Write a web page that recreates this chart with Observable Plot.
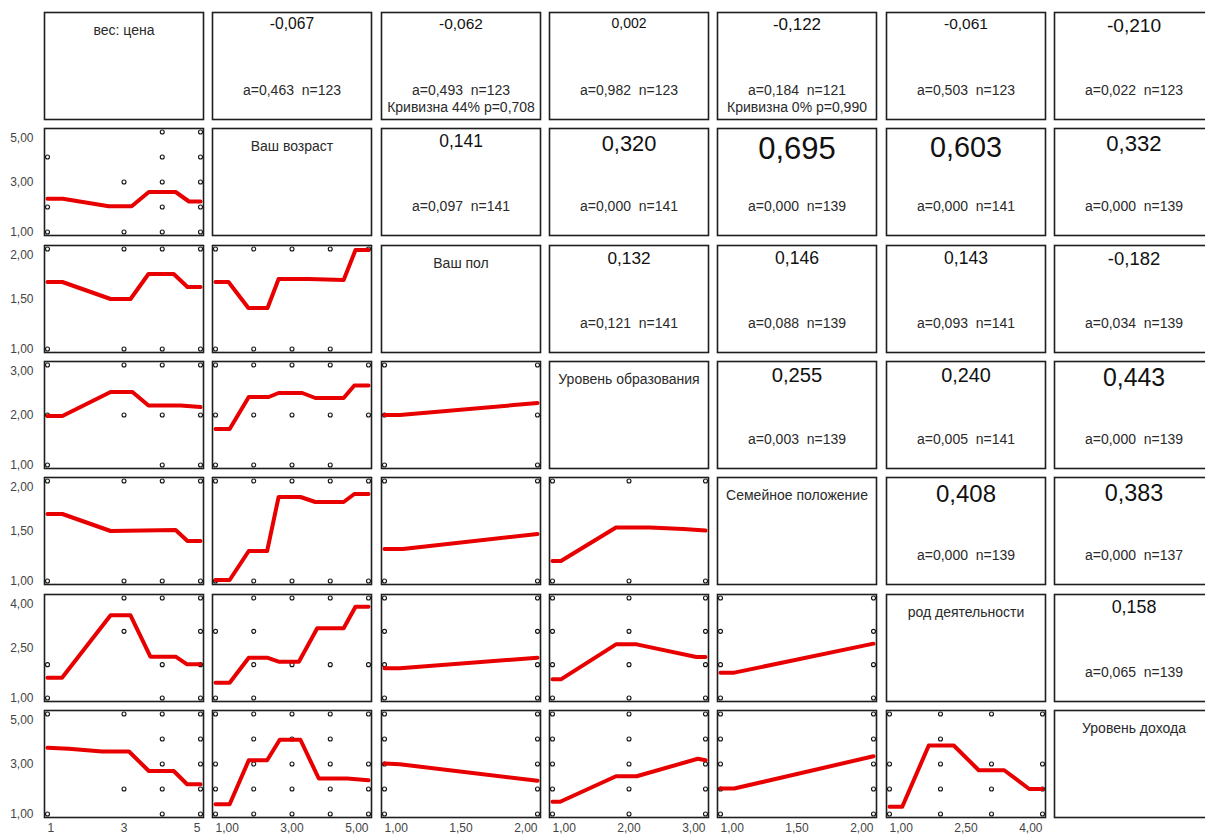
<!DOCTYPE html>
<html><head><meta charset="utf-8">
<script src="https://cdn.jsdelivr.net/npm/d3@7"></script>
<script src="https://cdn.jsdelivr.net/npm/@observablehq/plot@0.6"></script>
<style>
html,body{margin:0;padding:0;background:#fff;}
#chart{position:relative;width:1205px;height:835px;overflow:hidden;background:#fff;}
</style></head><body><div id="chart"></div>
<script>
// ---- variables ----
const variables = ["вес: цена", "Ваш возраст", "Ваш пол", "Уровень образования", "Семейное положение", "род деятельности", "Уровень дохода"];
const varMin = [1, 1, 1, 1, 1, 1, 1];
const varMax = [5, 5, 2, 3, 2, 4, 5];
const varTicks = [[1, 3, 5], [1, 3, 5], [1, 1.5, 2], [1, 2, 3], [1, 1.5, 2], [1, 2.5, 4], [1, 3, 5]];
const tickDecimals = [0, 2, 2, 2, 2, 2, 2];

// ---- upper triangle (row-major) ----
const corrPairs = [[0,1],[0,2],[0,3],[0,4],[0,5],[0,6],[1,2],[1,3],[1,4],[1,5],[1,6],[2,3],[2,4],[2,5],[2,6],[3,4],[3,5],[3,6],[4,5],[4,6],[5,6]];
const corrR = [-0.067, -0.062, 0.002, -0.122, -0.061, -0.210, 0.141, 0.320, 0.695, 0.603, 0.332, 0.132, 0.146, 0.143, -0.182, 0.255, 0.240, 0.443, 0.408, 0.383, 0.158];
const corrA = [0.463, 0.493, 0.982, 0.184, 0.503, 0.022, 0.097, 0.000, 0.000, 0.000, 0.000, 0.121, 0.088, 0.093, 0.034, 0.003, 0.005, 0.000, 0.000, 0.000, 0.065];
const corrN = [123, 123, 123, 121, 123, 123, 141, 141, 139, 141, 139, 141, 139, 141, 139, 139, 141, 139, 139, 137, 139];
const curvNote = ["", "Кривизна 44% p=0,708", "", "Кривизна 0% p=0,990", "", "", "", "", "", "", "", "", "", "", "", "", "", "", "", "", ""];

// ---- scatter points [x, y] per lower panel (row_col) ----
const pts_1_0 = [[4,5],[5,5],[1,4],[4,4],[5,4],[3,3],[4,3],[5,3],[1,2],[4,2],[5,2],[1,1],[3,1],[4,1],[5,1]];
const pts_2_0 = [[1,2],[3,2],[4,2],[5,2],[1,1],[3,1],[4,1],[5,1]];
const pts_2_1 = [[1,2],[2,2],[3,2],[4,2],[5,2],[1,1],[2,1],[3,1],[4,1]];
const pts_3_0 = [[1,3],[3,3],[4,3],[5,3],[1,2],[3,2],[4,2],[5,2],[1,1],[4,1],[5,1]];
const pts_3_1 = [[1,3],[2,3],[3,3],[4,3],[5,3],[1,2],[2,2],[3,2],[4,2],[5,2],[1,1],[2,1],[3,1],[4,1]];
const pts_3_2 = [[1,3],[2,3],[1,2],[2,2],[1,1],[2,1]];
const pts_4_0 = [[1,2],[3,2],[4,2],[5,2],[1,1],[3,1],[4,1],[5,1]];
const pts_4_1 = [[1,2],[2,2],[3,2],[4,2],[5,2],[1,1],[2,1],[3,1],[4,1],[5,1]];
const pts_4_2 = [[1,2],[2,2],[1,1],[2,1]];
const pts_4_3 = [[1,2],[2,2],[3,2],[1,1],[2,1],[3,1]];
const pts_5_0 = [[3,4],[4,4],[5,4],[3,3],[5,3],[1,2],[4,2],[5,2],[1,1],[4,1],[5,1]];
const pts_5_1 = [[2,4],[3,4],[4,4],[5,4],[1,3],[2,3],[2,2],[3,2],[4,2],[5,2],[1,1],[2,1]];
const pts_5_2 = [[1,4],[2,4],[1,3],[2,3],[1,2],[2,2],[1,1],[2,1]];
const pts_5_3 = [[1,4],[2,4],[3,4],[1,3],[2,3],[3,3],[1,2],[2,2],[3,2],[1,1],[2,1],[3,1]];
const pts_5_4 = [[1,4],[2,4],[1,3],[2,3],[1,2],[2,2],[1,1],[2,1]];
const pts_6_0 = [[1,5],[3,5],[4,5],[5,5],[4,4],[5,4],[4,3],[5,3],[3,2],[4,2],[5,2],[1,1],[4,1],[5,1]];
const pts_6_1 = [[1,5],[2,5],[3,5],[4,5],[5,5],[2,4],[3,4],[4,4],[1,3],[2,3],[3,3],[4,3],[5,3],[1,2],[2,2],[3,2],[4,2],[5,2],[1,1],[2,1],[3,1],[4,1],[5,1]];
const pts_6_2 = [[1,5],[2,5],[1,4],[2,4],[1,3],[2,3],[1,2],[2,2],[1,1],[2,1]];
const pts_6_3 = [[1,5],[2,5],[3,5],[1,4],[2,4],[3,4],[1,3],[2,3],[3,3],[1,2],[2,2],[3,2],[1,1],[2,1],[3,1]];
const pts_6_4 = [[1,5],[2,5],[1,4],[2,4],[1,3],[2,3],[1,2],[2,2],[1,1],[2,1]];
const pts_6_5 = [[1,5],[2,5],[3,5],[4,5],[2,4],[1,3],[2,3],[3,3],[4,3],[1,2],[2,2],[3,2],[4,2],[1,1],[2,1],[3,1],[4,1]];

// ---- smoothed fit lines [x, y] per lower panel ----
const fit_1_0 = [[1,2.33],[1.4,2.33],[2.6,2.03],[3.2,2.03],[3.65,2.6],[4.35,2.6],[4.7,2.22],[5,2.22]];
const fit_2_0 = [[1,1.67],[1.39,1.67],[2.65,1.5],[3.17,1.5],[3.64,1.75],[4.3,1.75],[4.66,1.62],[5,1.62]];
const fit_2_1 = [[1,1.67],[1.34,1.67],[1.86,1.41],[2.36,1.41],[2.65,1.70],[3.43,1.70],[4.35,1.69],[4.66,1.99],[5,1.99]];
const fit_3_0 = [[1,1.98],[1.39,1.98],[2.65,2.46],[3.22,2.46],[3.64,2.19],[4.48,2.19],[5,2.16]];
const fit_3_1 = [[1,1.72],[1.37,1.72],[1.87,2.36],[2.39,2.36],[2.65,2.44],[3.27,2.44],[3.61,2.34],[4.35,2.34],[4.63,2.59],[5,2.59]];
const fit_3_2 = [[1,2.0],[1.1,2.0],[2,2.24]];
const fit_4_0 = [[1,1.67],[1.39,1.67],[2.65,1.5],[4.35,1.51],[4.66,1.4],[5,1.4]];
const fit_4_1 = [[1,1.01],[1.37,1.01],[1.87,1.30],[2.35,1.30],[2.65,1.84],[3.22,1.84],[3.61,1.79],[4.35,1.79],[4.63,1.87],[5,1.87]];
const fit_4_2 = [[1,1.32],[1.12,1.32],[2,1.47]];
const fit_4_3 = [[1,1.2],[1.11,1.2],[1.83,1.535],[2.27,1.535],[2.71,1.52],[3,1.505]];
const fit_5_0 = [[1,1.61],[1.38,1.61],[2.65,3.48],[3.17,3.48],[3.69,2.24],[4.35,2.24],[4.65,2.01],[5,2.01]];
const fit_5_1 = [[1,1.46],[1.37,1.46],[1.87,2.21],[2.35,2.21],[2.65,2.09],[3.18,2.09],[3.66,3.09],[4.35,3.09],[4.66,3.74],[5,3.74]];
const fit_5_2 = [[1,1.89],[1.1,1.89],[2,2.21]];
const fit_5_3 = [[1,1.56],[1.11,1.56],[1.83,2.61],[2.1,2.61],[2.88,2.23],[3,2.23]];
const fit_5_4 = [[1,1.76],[1.09,1.76],[2,2.63]];
const fit_6_0 = [[1,3.65],[1.56,3.61],[2.43,3.5],[3.13,3.5],[3.65,2.72],[4.3,2.72],[4.65,2.19],[5,2.19]];
const fit_6_1 = [[1,1.39],[1.37,1.39],[1.87,3.15],[2.35,3.15],[2.68,3.97],[3.22,3.97],[3.70,2.42],[4.44,2.42],[5,2.35]];
const fit_6_2 = [[1,3.02],[1.1,2.99],[2,2.33]];
const fit_6_3 = [[1,1.49],[1.1,1.49],[1.83,2.51],[2.1,2.51],[2.9,3.21],[3,3.15]];
const fit_6_4 = [[1,2.02],[1.09,2.02],[2,3.31]];
const fit_6_5 = [[1,1.29],[1.25,1.29],[1.77,3.74],[2.26,3.74],[2.75,2.75],[3.25,2.75],[3.74,2.0],[4,2.0]];

const lowerPanels = [
  [1,0,pts_1_0,fit_1_0],
  [2,0,pts_2_0,fit_2_0],[2,1,pts_2_1,fit_2_1],
  [3,0,pts_3_0,fit_3_0],[3,1,pts_3_1,fit_3_1],[3,2,pts_3_2,fit_3_2],
  [4,0,pts_4_0,fit_4_0],[4,1,pts_4_1,fit_4_1],[4,2,pts_4_2,fit_4_2],[4,3,pts_4_3,fit_4_3],
  [5,0,pts_5_0,fit_5_0],[5,1,pts_5_1,fit_5_1],[5,2,pts_5_2,fit_5_2],[5,3,pts_5_3,fit_5_3],[5,4,pts_5_4,fit_5_4],
  [6,0,pts_6_0,fit_6_0],[6,1,pts_6_1,fit_6_1],[6,2,pts_6_2,fit_6_2],[6,3,pts_6_3,fit_6_3],[6,4,pts_6_4,fit_6_4],[6,5,pts_6_5,fit_6_5]
];

// ---- layout ----
const PW = 159, PH = 107;
const colLeft = j => Math.round(44 + j * 168.33);
const rowTop = i => Math.round(12 + i * 116.33);
const FONT = "'Liberation Sans', Arial, sans-serif";
const fmt = (v, d) => v.toFixed(d).replace(".", ",");
const frameMark = () => Plot.frame({stroke: "#1e1e1e", strokeWidth: 1.6});
const chart = document.getElementById("chart");

function place(svg, left, top) {
  svg.style.position = "absolute";
  svg.style.left = left + "px";
  svg.style.top = top + "px";
  chart.appendChild(svg);
}

function baseStyle() {
  return {fontFamily: FONT, fontSize: "12px", maxWidth: "none", overflow: "visible", background: "transparent"};
}

function lowerPanel(i, j, pts, fit) {
  const isLeft = j === 0, isBottom = i === 6;
  const mt = 2, mr = 2, mb = isBottom ? 22 : 2, ml = isLeft ? 46 : 2;
  const marks = [
    Plot.dot(pts, {x: d => d[0], y: d => d[1], r: 2, stroke: "#111", strokeWidth: 1.1, fill: "none"}),
    Plot.line(fit, {x: d => d[0], y: d => d[1], stroke: "#e80000", strokeWidth: 4, strokeLinejoin: "round"}),
    frameMark()
  ];
  if (isLeft) {
    const t = varTicks[i], f = v => fmt(v, tickDecimals[i]);
    marks.push(Plot.axisY({ticks: [t[2]], tickSize: 0, tickPadding: 11, dy: 6, tickFormat: f, color: "#444", label: null, fontSize: 12}));
    marks.push(Plot.axisY({ticks: [t[0], t[1]], tickSize: 0, tickPadding: 11, tickFormat: f, color: "#444", label: null, fontSize: 12}));
  }
  if (isBottom) {
    const t = varTicks[j], f = v => fmt(v, tickDecimals[j]);
    marks.push(Plot.axisX({ticks: [t[0]], tickSize: 0, tickPadding: 6, textAnchor: "start", tickFormat: f, color: "#444", label: null, fontSize: 12}));
    marks.push(Plot.axisX({ticks: [t[1]], tickSize: 0, tickPadding: 6, tickFormat: f, color: "#444", label: null, fontSize: 12}));
    marks.push(Plot.axisX({ticks: [t[2]], tickSize: 0, tickPadding: 6, textAnchor: "end", tickFormat: f, color: "#444", label: null, fontSize: 12}));
  }
  const svg = Plot.plot({
    width: PW + ml + mr, height: PH + mt + mb,
    marginTop: mt, marginRight: mr, marginBottom: mb, marginLeft: ml,
    x: {domain: [varMin[j], varMax[j]], inset: 3, axis: null},
    y: {domain: [varMin[i], varMax[i]], insetTop: 3.5, insetBottom: 3.5, axis: null},
    style: baseStyle(),
    marks
  });
  place(svg, colLeft(j) - ml, rowTop(i) - mt);
}

function textPanel(i, j, marks) {
  const m = 2;
  const svg = Plot.plot({
    width: PW + 2 * m, height: PH + 2 * m, margin: m,
    style: baseStyle(),
    marks: [frameMark(), ...marks]
  });
  place(svg, colLeft(j) - m, rowTop(i) - m);
}

// diagonal
variables.forEach((name, k) => {
  textPanel(k, k, [
    Plot.text([name], {text: d => d, frameAnchor: "top", dy: 18.5, lineAnchor: "middle", fontSize: 14, fill: "#2a2a2a"})
  ]);
});

// upper triangle
corrPairs.forEach(([i, j], k) => {
  const r = corrR[k];
  const size = 14 + 24.5 * Math.abs(r);
  const marks = [
    Plot.text([fmt(r, 3)], {text: d => d, frameAnchor: "top", dy: 2.5 + 0.19 * size, lineAnchor: "top", fontSize: size, fill: "#111"}),
    Plot.text([`a=${fmt(corrA[k], 3)}  n=${corrN[k]}`], {text: d => d, frameAnchor: "top", dy: 78, lineAnchor: "middle", fontSize: 14, fill: "#2a2a2a"})
  ];
  if (curvNote[k]) marks.push(Plot.text([curvNote[k]], {text: d => d, frameAnchor: "top", dy: 95.5, lineAnchor: "middle", fontSize: 14, fill: "#2a2a2a"}));
  textPanel(i, j, marks);
});

// lower triangle
lowerPanels.forEach(([i, j, pts, fit]) => lowerPanel(i, j, pts, fit));
</script></body></html>
